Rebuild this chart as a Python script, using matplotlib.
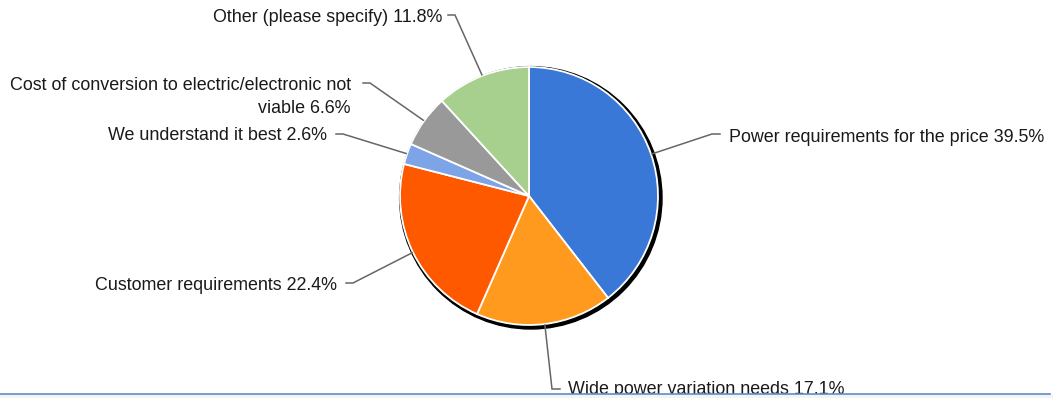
import numpy as np
import matplotlib
matplotlib.use('Agg')
import matplotlib.pyplot as plt
from matplotlib.patches import Circle, Rectangle

plt.rcParams['font.family'] = ['Liberation Sans', 'DejaVu Sans']

labels = ['Power requirements for the price',
          'Wide power variation needs',
          'Customer requirements',
          'We understand it best',
          'Cost of conversion to electric/electronic not\nviable',
          'Other (please specify)']
values = [39.5, 17.1, 22.4, 2.6, 6.6, 11.8]
colors = ['#3a78d8', '#ff9a1f', '#ff5900', '#7ca4e6', '#999999', '#a7cf8e']

# elbow of each leader line and where its text sits (pixel coords, y down)
elbows = [(712, 134), (552, 389), (353, 283), (343, 134), (370, 83), (455, 15)]
text_pos = [(729, 137), (568, 390), (337, 285), (327, 136), (351, 97), (442, 17)]
sides = ['left', 'left', 'right', 'right', 'right', 'right']

W, H = 1053, 398
fig = plt.figure(figsize=(W / 100, H / 100), dpi=100)
ax = fig.add_axes([0, 0, 1, 1])
ax.set_xlim(0, W)
ax.set_ylim(0, H)
ax.set_aspect('equal')
ax.axis('off')

cx, cy, r = 529, H - 196, 129

# drop shadow behind the pie
ax.add_patch(Circle((cx + 1.8, cy - 1.8), r + 2.2, color='black', zorder=1))
wedges, _ = ax.pie(values, colors=colors, startangle=90, counterclock=False,
                   center=(cx, cy), radius=r, frame=True,
                   wedgeprops=dict(edgecolor='white', linewidth=1.3, zorder=2))
ax.set_xlim(0, W)
ax.set_ylim(0, H)
ax.axis('off')

for w, v, lab, (ex, ey), (tx, ty), side in zip(wedges, values, labels, elbows, text_pos, sides):
    mid = np.deg2rad((w.theta1 + w.theta2) / 2)
    sx, sy = cx + (r + 1) * np.cos(mid), cy + (r + 1) * np.sin(mid)
    ey = H - ey
    hx = ex + 8 if side == 'left' else ex - 7
    ax.plot([sx, ex, hx], [sy, ey, ey], color='#666666', lw=1.1, zorder=3,
            solid_joinstyle='miter')
    ax.text(tx, H - ty, '%s %.1f%%' % (lab, v), ha=side, va='center',
            fontsize=12.9, color='#1a1a1a', zorder=3, linespacing=1.45,
            multialignment='right')

# bottom border strip
ax.add_patch(Rectangle((0, 0), W, H - 394, color='#f4f4f4', zorder=5, lw=0))
ax.plot([0, W - 3], [H - 393.5, H - 393.5], color='#5b8fc7', lw=1.2, zorder=6)

fig.savefig('out.png', dpi=100)
